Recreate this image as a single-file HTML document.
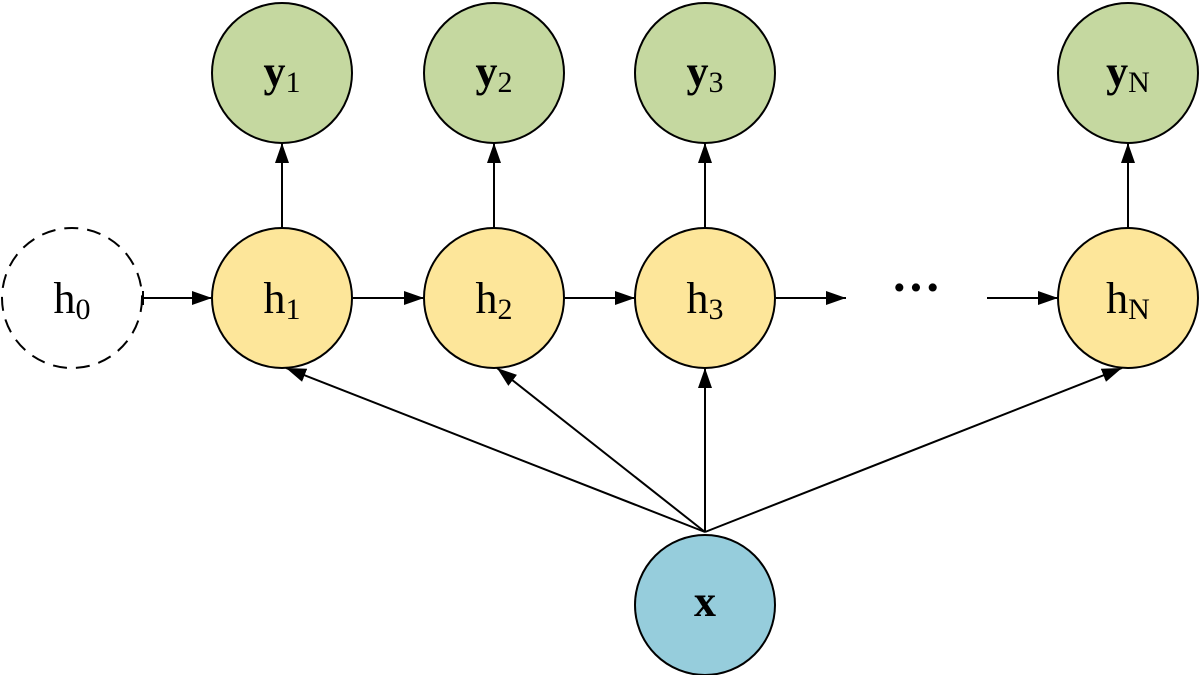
<!DOCTYPE html>
<html><head><style>body{margin:0;background:#fff}</style></head><body>
<svg width="1200" height="675" xmlns="http://www.w3.org/2000/svg" font-family="Liberation Serif, serif">
<defs>
<marker id="b" viewBox="0 0 10 10" markerWidth="20" markerHeight="14" refX="10" refY="5" orient="auto" markerUnits="userSpaceOnUse" preserveAspectRatio="none"><path d="M0,0L10,5L0,10z"/></marker></defs>
<g stroke="#000" stroke-width="2" fill="none">
<line x1="143" y1="298" x2="212" y2="298" marker-end="url(#b)"/>
<line x1="143" y1="291" x2="143" y2="305"/>
<line x1="353" y1="298" x2="424" y2="298" marker-end="url(#b)"/>
<line x1="565" y1="298" x2="635" y2="298" marker-end="url(#b)"/>
<line x1="776" y1="298" x2="846" y2="298" marker-end="url(#b)"/>
<line x1="987" y1="298" x2="1058" y2="298" marker-end="url(#b)"/>
<line x1="282" y1="228" x2="282" y2="143" marker-end="url(#b)"/>
<line x1="494" y1="228" x2="494" y2="143" marker-end="url(#b)"/>
<line x1="705" y1="228" x2="705" y2="143" marker-end="url(#b)"/>
<line x1="1128" y1="228" x2="1128" y2="143" marker-end="url(#b)"/>
<line x1="705" y1="532" x2="286" y2="368" marker-end="url(#b)"/>
<line x1="705" y1="532" x2="497" y2="368" marker-end="url(#b)"/>
<line x1="705" y1="532" x2="705" y2="368" marker-end="url(#b)"/>
<line x1="705" y1="532" x2="1122" y2="368" marker-end="url(#b)"/>
</g>
<g stroke="#000" stroke-width="2">
<circle cx="72" cy="298" r="70" fill="#fff" stroke-dasharray="14,9"/>
<circle cx="282" cy="298" r="70" fill="#fde69a"/>
<circle cx="494" cy="298" r="70" fill="#fde69a"/>
<circle cx="705" cy="298" r="70" fill="#fde69a"/>
<circle cx="1128" cy="298" r="70" fill="#fde69a"/>
<circle cx="282" cy="73" r="70" fill="#c5d8a0"/>
<circle cx="494" cy="73" r="70" fill="#c5d8a0"/>
<circle cx="705" cy="73" r="70" fill="#c5d8a0"/>
<circle cx="1128" cy="73" r="70" fill="#c5d8a0"/>
<circle cx="705" cy="605" r="70" fill="#96cddc"/>
</g>
<g font-size="44" text-anchor="middle">
<text x="72" y="313">h<tspan font-size="30" dy="6">0</tspan></text>
<text x="282" y="313">h<tspan font-size="30" dy="6">1</tspan></text>
<text x="494" y="313">h<tspan font-size="30" dy="6">2</tspan></text>
<text x="705" y="313">h<tspan font-size="30" dy="6">3</tspan></text>
<text x="1128" y="313">h<tspan font-size="30" dy="6">N</tspan></text>
<text x="282" y="86" font-weight="bold">y<tspan font-size="30" dy="6" font-weight="normal">1</tspan></text>
<text x="494" y="86" font-weight="bold">y<tspan font-size="30" dy="6" font-weight="normal">2</tspan></text>
<text x="705" y="86" font-weight="bold">y<tspan font-size="30" dy="6" font-weight="normal">3</tspan></text>
<text x="1128" y="86" font-weight="bold">y<tspan font-size="30" dy="6" font-weight="normal">N</tspan></text>
<text x="705" y="616" font-weight="bold">x</text>
<text x="916" y="304" font-size="50" font-weight="bold">···</text>
</g>
</svg>
</body></html>
